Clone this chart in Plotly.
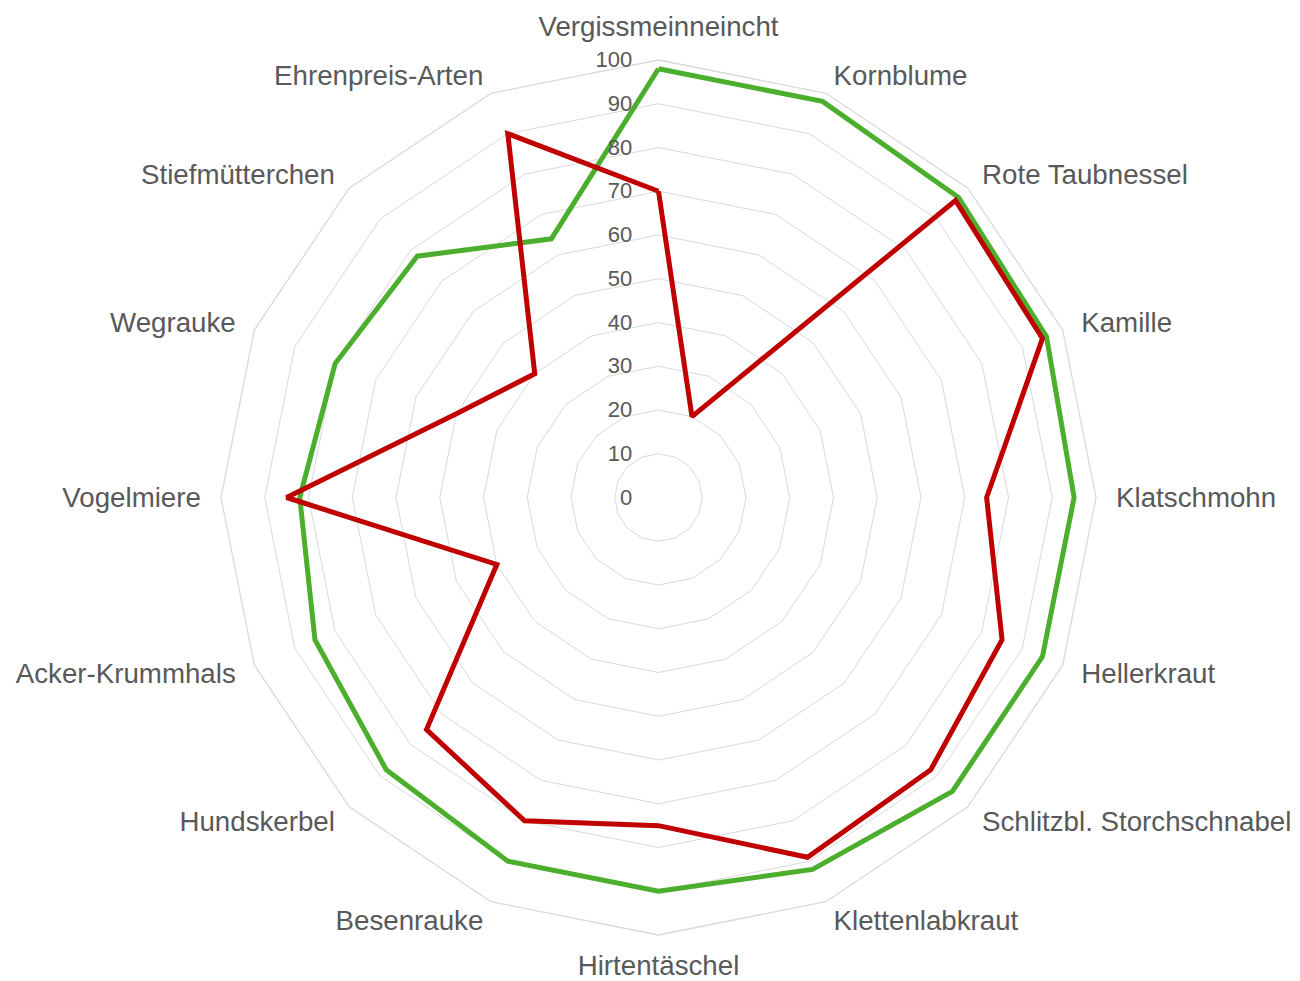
import plotly.graph_objects as go

categories = [
    "Vergissmeinneincht", "Kornblume", "Rote Taubnessel", "Kamille",
    "Klatschmohn", "Hellerkraut", "Schlitzbl. Storchschnabel", "Klettenlabkraut",
    "Hirtentäschel", "Besenrauke", "Hundskerbel", "Acker-Krummhals",
    "Vogelmiere", "Wegrauke", "Stiefmütterchen", "Ehrenpreis-Arten",
]
green_values = [98, 98, 97, 96, 95, 95, 95, 92, 90, 90, 88, 85, 82, 80, 78, 64]
red_values = [70, 20, 96, 95, 75, 85, 88, 89, 75, 80, 75, 40, 85, 50, 40, 90]
radial_ticks = list(range(0, 101, 10))

GREEN = "#4BAE2C"
RED = "#C00000"
GRID = "#D9D9D9"
TEXT = "#595959"
FONT = "Liberation Sans, Arial, sans-serif"

label_positions = (
    ["top center"]
    + ["middle right"] * 7
    + ["bottom center"]
    + ["middle left"] * 7
)
# radial placement of the labels on the invisible label frame
label_radius = [100.0] * 8 + [99.1] + [100.0] * 7

fig = go.Figure()
fig.add_trace(go.Scatterpolar(
    r=green_values + green_values[:1],
    theta=categories + categories[:1],
    mode="lines",
    line=dict(color=GREEN, width=5),
    showlegend=False,
    hoverinfo="skip",
    subplot="polar",
))
fig.add_trace(go.Scatterpolar(
    r=red_values + red_values[:1],
    theta=categories + categories[:1],
    mode="lines",
    line=dict(color=RED, width=5),
    showlegend=False,
    hoverinfo="skip",
    subplot="polar",
))
# category labels: drawn on a slightly larger, invisible polar frame
fig.add_trace(go.Scatterpolar(
    r=label_radius,
    theta=categories,
    mode="text",
    text=categories,
    textposition=label_positions,
    textfont=dict(size=27.7, color=TEXT, family=FONT),
    cliponaxis=False,
    showlegend=False,
    hoverinfo="skip",
    subplot="polar2",
))

# figure is 1292x973 so that with the page's 8px body margin it fills 1300x981
fig.update_layout(
    width=1292, height=973,
    margin=dict(l=0, r=0, t=0, b=0),
    paper_bgcolor="white",
    plot_bgcolor="white",
    font=dict(family=FONT, color=TEXT),
    polar=dict(
        domain=dict(x=[0.16486, 0.84211], y=[0.04728, 0.94655]),
        bgcolor="white",
        gridshape="linear",
        angularaxis=dict(
            direction="clockwise",
            rotation=90,
            categoryorder="array",
            categoryarray=categories,
            showgrid=False,
            showline=True,
            linecolor=GRID,
            linewidth=1.3,
            ticks="",
            showticklabels=False,
        ),
        radialaxis=dict(
            range=[0, 100],
            tickvals=radial_ticks,
            ticktext=[str(v) for v in radial_ticks],
            angle=90,
            side="counterclockwise",
            showline=False,
            showgrid=True,
            gridcolor=GRID,
            gridwidth=1.3,
            ticks="outside",
            ticklen=18,
            tickcolor="rgba(0,0,0,0)",
            tickfont=dict(size=22, color=TEXT),
            tickangle=90,
        ),
    ),
    polar2=dict(
        domain=dict(x=[0.14930, 0.85766], y=[0.02354, 0.96413]),
        bgcolor="rgba(0,0,0,0)",
        gridshape="linear",
        angularaxis=dict(
            direction="clockwise",
            rotation=90,
            categoryorder="array",
            categoryarray=categories,
            showgrid=False,
            showline=False,
            ticks="",
            showticklabels=False,
        ),
        radialaxis=dict(
            range=[0, 100],
            visible=False,
            showgrid=False,
            showline=False,
            showticklabels=False,
            ticks="",
        ),
    ),
)

fig.write_html("out.html")
